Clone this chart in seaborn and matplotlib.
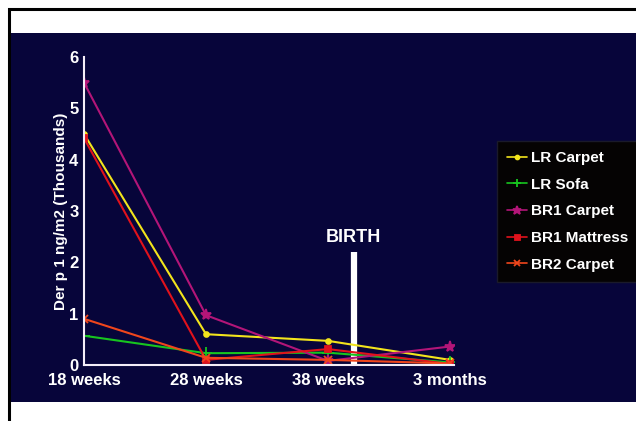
import matplotlib
matplotlib.use("Agg")
import matplotlib.pyplot as plt
from matplotlib.patches import Rectangle
import seaborn as sns
import pandas as pd

categories = ["18 weeks", "28 weeks", "38 weeks", "3 months"]
lr_carpet = [4.50, 0.60, 0.47, 0.10]
lr_sofa = [0.57, 0.23, 0.24, 0.05]
br1_carpet = [5.50, 0.97, 0.08, 0.36]
br1_mattress = [4.42, 0.10, 0.31, 0.02]
br2_carpet = [0.90, 0.14, 0.10, 0.03]
series_names = ["LR Carpet", "LR Sofa", "BR1 Carpet", "BR1 Mattress", "BR2 Carpet"]
series_values = [lr_carpet, lr_sofa, br1_carpet, br1_mattress, br2_carpet]
yticks = [0, 1, 2, 3, 4, 5, 6]
birth_x = 2.21
birth_top = 2.2

colors = ["#f2e41c", "#17c41f", "#b31578", "#e0121c", "#f0461c"]
final_markers = ["o", "+", "*", "s", "x"]

rows = []
for name, vals in zip(series_names, series_values):
    for i, v in enumerate(vals):
        rows.append({"pos": i, "value": v, "series": name})
df = pd.DataFrame(rows)

sns.set_theme(style="white")
plt.rcParams["font.family"] = ["Liberation Sans", "DejaVu Sans"]
plt.rcParams["font.weight"] = "bold"

W, H = 636, 421
fig = plt.figure(figsize=(W / 100, H / 100), dpi=100)
fig.patch.set_facecolor("white")
navy = "#07053a"
# frame and navy panel
fig.add_artist(Rectangle((9 / W, -0.1), 1.2, (421 - 9) / H + 0.1, transform=fig.transFigure,
                         facecolor="white", edgecolor="black", linewidth=2.2, zorder=-2))
fig.add_artist(Rectangle((11 / W, (H - 402) / H), 1.0, (402 - 33) / H, transform=fig.transFigure,
                         facecolor=navy, edgecolor="none", zorder=-1))

left, right = 84, 84 + 3.03 * 122
bottom, top = 365, 57
ax = fig.add_axes([left / W, (H - bottom) / H, (right - left) / W, (bottom - top) / H])
ax.set_facecolor("none")
ax.set_zorder(2)

marker_sizes = {"LR Carpet": 3.5, "LR Sofa": 8, "BR1 Carpet": 8, "BR1 Mattress": 4.5, "BR2 Carpet": 6}
sns.lineplot(data=df, x="pos", y="value", hue="series", style="series",
             hue_order=series_names, style_order=series_names,
             palette=dict(zip(series_names, colors)),
             markers=["o", "P", "*", "s", "X"], dashes=False,
             linewidth=1.5, markersize=5, ax=ax, legend=True)

def restyle(line, name, mk, scale=1.0, lw=None):
    c = line.get_color()
    line.set_marker(mk)
    line.set_markersize(marker_sizes[name] * scale)
    line.set_markeredgecolor(c)
    line.set_markerfacecolor(c)
    line.set_markeredgewidth(1.3)
    if lw is not None:
        line.set_linewidth(lw)

for line, name, mk in zip(ax.lines, series_names, final_markers):
    restyle(line, name, mk)

ax.set_xlim(0, 3.03)
ax.set_ylim(0, 6)
ax.set_xticks(range(len(categories)))
ax.set_xticklabels(categories)
ax.set_yticks(yticks)
ax.set_yticklabels([str(t) for t in yticks])
ax.tick_params(colors="white", labelsize=12, length=0)
ax.tick_params(axis="y", pad=4)
ax.tick_params(axis="x", pad=6)
for lbl in ax.get_xticklabels() + ax.get_yticklabels():
    lbl.set_fontweight("bold")
    lbl.set_color("white")
ax.set_xlabel("")
ax.set_ylabel("Der p 1 ng/m2 (Thousands)", color="white", fontsize=11, fontweight="bold", labelpad=1)
for s in ["top", "right"]:
    ax.spines[s].set_visible(False)
for s in ["left", "bottom"]:
    ax.spines[s].set_color("#f4eef8")
    ax.spines[s].set_linewidth(1.5)

# Birth marker
ax.plot([birth_x, birth_x], [0, birth_top], color="white", linewidth=4.5, solid_capstyle="butt", zorder=1)
ax.text(birth_x, birth_top + 0.12, "BIRTH", color="white", fontsize=13, fontweight="bold",
        ha="center", va="bottom")

handles, labels = ax.get_legend_handles_labels()
for h, name, mk in zip(handles, series_names, final_markers):
    restyle(h, name, mk, scale=0.8, lw=1.2)
leg = ax.legend(handles, labels, loc="upper left", bbox_to_anchor=(497 / W, (H - 141) / H),
                bbox_transform=fig.transFigure, frameon=True, facecolor="#050303",
                edgecolor="#1a1a2a", fontsize=11, labelcolor="white", handlelength=1.3,
                handletextpad=0.3, labelspacing=0.83, borderpad=0.65, borderaxespad=0,
                fancybox=False, framealpha=1)
for t in leg.get_texts():
    t.set_fontweight("bold")

fig.savefig("out.png", dpi=100, facecolor="white")
